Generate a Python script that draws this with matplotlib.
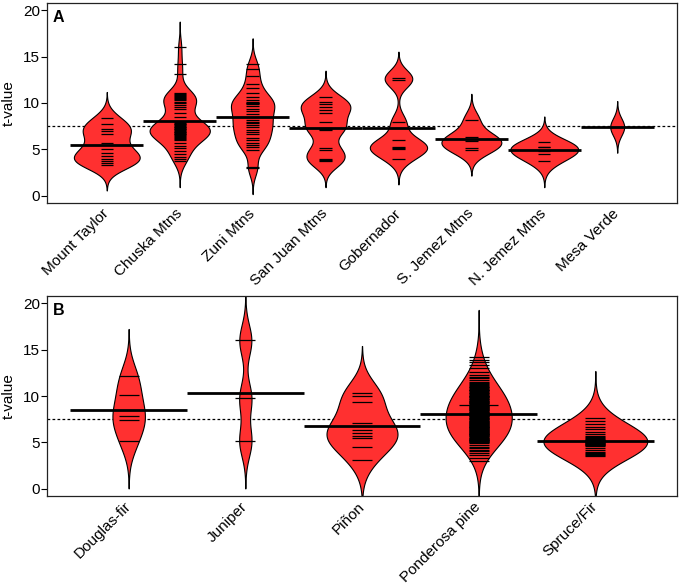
import numpy as np
import matplotlib
matplotlib.use("Agg")
import matplotlib.pyplot as plt

plt.rcParams['font.family'] = ['Liberation Sans', 'DejaVu Sans']

# ---------------- Panel A: mountain ranges ----------------
regions = ["Mount Taylor", "Chuska Mtns", "Zuni Mtns", "San Juan Mtns",
           "Gobernador", "S. Jemez Mtns", "N. Jemez Mtns", "Mesa Verde"]

mount_taylor = [8.4, 7.7, 7.2, 7.0, 6.6, 5.7, 5.0, 4.65, 4.25, 3.9, 3.7, 3.5, 3.35]
chuska = [16.0, 14.2, 13.1,
          11.1, 11.0, 10.9, 10.8, 10.7, 10.55, 10.4, 10.3, 10.15, 10.0, 9.8,
          9.6, 9.3,
          8.9, 8.5,
          7.9, 7.8, 7.75, 7.7, 7.6, 7.5, 7.45, 7.4, 7.3, 7.2, 7.15, 7.1,
          7.0, 6.9, 6.85, 6.8, 6.7, 6.6, 6.5, 6.4, 6.3, 6.2, 6.1, 6.0,
          5.7, 5.4, 5.1, 4.8, 4.5, 4.2, 3.9, 3.7]
zuni = [14.2, 13.7, 12.9, 12.1, 11.6, 11.1, 10.6,
        10.3, 10.15, 10.05, 9.95, 9.85, 9.7,
        9.4, 9.1, 8.8, 8.5, 8.2, 8.0,
        7.8, 7.6, 7.4, 7.1, 6.9, 6.6,
        6.2, 6.0, 5.7, 5.5, 5.2, 4.9,
        3.05, 2.95]
san_juan = [10.7, 10.1, 9.9, 9.6, 9.25, 8.9, 8.0, 7.3, 7.2, 7.1, 5.1, 4.95,
            3.95, 3.8, 3.7]
gobernador = [12.75, 12.5, 7.9, 6.0, 5.3, 5.15, 5.0, 4.0]
s_jemez = [8.2, 6.3, 6.1, 5.85, 5.15, 4.95]
n_jemez = [5.75, 5.3, 5.2, 4.8, 4.5, 3.7]
mesa_verde = [7.42]

# ---------------- Panel B: forest types ----------------
species = ["Douglas-fir", "Juniper", "Piñon", "Ponderosa pine", "Spruce/Fir"]

douglas_fir = [12.14, 10.1, 7.88, 7.38, 5.12]
juniper = [16.0, 9.75, 5.12]
pinon = [10.3, 10.05, 9.3, 7.1, 6.35, 6.0, 5.7, 5.45, 4.5, 3.1]
ponderosa = [14.2, 13.9, 13.7, 13.3, 13.0, 12.6, 12.3, 12.1,
             11.9, 11.7, 11.5, 11.4, 11.3, 11.2, 11.1, 11.0,
             10.95, 10.9, 10.8, 10.7, 10.65, 10.6, 10.5, 10.4, 10.35, 10.3,
             10.2, 10.1, 10.05, 10.0,
             9.95, 9.9, 9.85, 9.8, 9.7, 9.65, 9.6, 9.5, 9.45, 9.4, 9.3, 9.25,
             9.2, 9.1, 9.06, 9.06, 9.0,
             8.95, 8.9, 8.85, 8.8, 8.75, 8.7, 8.6, 8.55, 8.5, 8.45, 8.4, 8.3,
             8.25, 8.2, 8.15, 8.1, 8.05, 8.0,
             7.95, 7.9, 7.85, 7.8, 7.7, 7.65, 7.6, 7.55, 7.5, 7.4, 7.35, 7.3,
             7.2, 7.15, 7.1, 7.05, 7.0,
             6.95, 6.9, 6.85, 6.8, 6.75, 6.7, 6.65, 6.6, 6.55, 6.5, 6.45, 6.4,
             6.35, 6.3, 6.25, 6.2, 6.15, 6.1, 6.05, 6.0,
             5.95, 5.9, 5.85, 5.8, 5.75, 5.7, 5.65, 5.6, 5.5, 5.45, 5.4, 5.35,
             5.3, 5.25, 5.2, 5.15, 5.1, 5.05, 5.0,
             4.9, 4.7, 4.5, 4.4, 4.2, 4.1,
             3.8, 3.6, 3.3, 3.0]
spruce_fir = [7.6, 7.3, 7.0, 6.7, 6.4, 6.1,
              5.9, 5.7, 5.55, 5.45, 5.35, 5.3,
              5.25, 5.2, 5.15, 5.1, 5.05, 5.0,
              4.95, 4.9, 4.85, 4.8, 4.75, 4.7,
              4.6, 4.4, 4.2, 3.95, 3.85, 3.75, 3.65, 3.55]

groups_a = [mount_taylor, chuska, zuni, san_juan, gobernador, s_jemez,
            n_jemez, mesa_verde]
groups_b = [douglas_fir, juniper, pinon, ponderosa, spruce_fir]

yticks = [0, 5, 10, 15, 20]

RED = '#FF3030'
FS = 11


def draw_panel(ax, names, groups, bw, maxwidth, letter):
    n = len(groups)
    allvals = np.concatenate([np.asarray(g, float) for g in groups])
    overall = allvals.mean()
    ax.axhline(overall, color='black', ls=(0, (2.2, 1.8)), lw=0.9, zorder=1)

    curves = []
    for g in groups:
        g = np.asarray(g, float)
        ys = np.linspace(g.min() - 3 * bw, g.max() + 3 * bw, 600)
        d = np.exp(-0.5 * ((ys[:, None] - g[None, :]) / bw) ** 2).sum(1)
        d /= (len(g) * bw * np.sqrt(2 * np.pi))
        d *= min(1.0, len(g) / 10.0)
        curves.append((ys, d))
    dmax = max(c[1].max() for c in curves)

    ll = 0.17
    for i, (g, (ys, d)) in enumerate(zip(groups, curves), start=1):
        hw = d / dmax * maxwidth / 2
        ax.fill_betweenx(ys, i - hw, i + hw, facecolor=RED,
                         edgecolor='black', lw=0.8, zorder=2)
        vals, counts = np.unique(np.round(np.asarray(g, float), 2),
                                 return_counts=True)
        for v, c in zip(vals, counts):
            h = ll / 2 * c
            ax.plot([i - h, i + h], [v, v], color='black', lw=0.9,
                    zorder=3, solid_capstyle='butt')
        m = np.mean(g)
        ax.plot([i - 0.5, i + 0.5], [m, m], color='black', lw=2.0,
                zorder=4, solid_capstyle='butt')

    rng = (n + 0.5) - 0.5
    ax.set_xlim(0.5 - 0.04 * rng, n + 0.5 + 0.04 * rng)
    ax.set_ylim(-0.8, 20.8)
    ax.set_xticks(np.arange(1, n + 1))
    ax.set_xticklabels(names, rotation=45, ha='right', va='center',
                       rotation_mode='anchor', fontsize=FS)
    ax.tick_params(axis='x', length=0, pad=6)
    ax.set_yticks(yticks)
    ax.set_yticklabels([str(t) for t in yticks], fontsize=FS)
    ax.tick_params(axis='y', length=4, width=0.8, direction='out', pad=1)
    ax.set_ylabel('t-value', fontsize=FS)
    ax.yaxis.set_label_coords(-0.05, 0.5)
    for s in ax.spines.values():
        s.set_color('#222222')
        s.set_linewidth(0.9)
    ax.text(0.009, 0.965, letter, transform=ax.transAxes, fontsize=11.5,
            fontweight='bold', ha='left', va='top')


fig = plt.figure(figsize=(6.8, 5.85), dpi=100)
ax_a = fig.add_axes([47 / 680, 382 / 585, 630 / 680, 200 / 585])
ax_b = fig.add_axes([47 / 680, 89 / 585, 630 / 680, 200 / 585])

draw_panel(ax_a, regions, groups_a, 0.93, 0.93, 'A')
draw_panel(ax_b, species, groups_b, 1.7, 0.89, 'B')

fig.savefig('out.png', dpi=100)
